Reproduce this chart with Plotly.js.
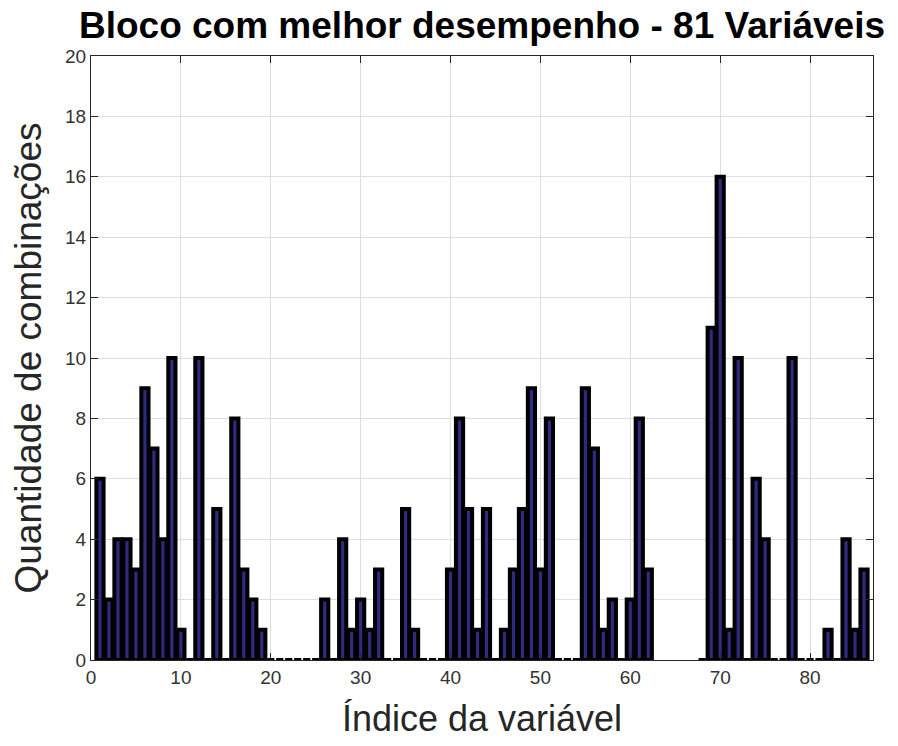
<!DOCTYPE html>
<html>
<head>
<meta charset="utf-8">
<script src="https://cdn.plot.ly/plotly-3.0.1.min.js"></script>
<style>
html,body{margin:0;padding:0;background:#fff;}
#chart{width:898px;height:746px;}
</style>
</head>
<body>
<div id="chart"></div>
<script>
const indices = [1,2,3,4,5,6,7,8,9,10,11,12,13,14,15,16,17,18,19,20,
  21,22,23,24,25,26,27,28,29,30,31,32,33,34,35,36,37,38,39,40,
  41,42,43,44,45,46,47,48,49,50,51,52,53,54,55,56,57,58,59,60,
  61,62,63,64,65,66,67,68,69,70,71,72,73,74,75,76,77,78,79,80,
  81,82,83,84,85,86];
const counts = [6,2,4,4,3,9,7,4,10,1,0,10,0,5,0,8,3,2,1,0,
  0,0,0,0,0,2,0,4,1,2,1,3,0,0,5,1,0,0,0,3,
  8,5,1,5,0,1,3,5,9,3,8,0,0,0,9,7,1,2,0,2,
  8,3,null,null,null,null,null,0,11,16,1,10,0,6,4,0,0,10,0,0,
  0,1,0,4,1,3];
const xTicks = [0,10,20,30,40,50,60,70,80];
const yTicks = [0,2,4,6,8,10,12,14,16,18,20];

const FONT = 'Liberation Sans, Arial, Helvetica, sans-serif';

const trace = {
  type: 'bar',
  x: indices,
  y: counts,
  width: 0.8,
  marker: {color: '#2e2b80', line: {color: '#000000', width: 4}},
  hoverinfo: 'x+y'
};

const axisCommon = {
  showline: true, mirror: 'ticks', linecolor: '#262626', linewidth: 1,
  ticks: 'inside', ticklen: 7, tickcolor: '#262626',
  showgrid: true, gridcolor: '#dedede', gridwidth: 1,
  zeroline: false,
  tickfont: {family: FONT, size: 19, color: '#333333'}
};

const layout = {
  width: 898, height: 746,
  margin: {l: 91, r: 25, t: 56, b: 86},
  paper_bgcolor: '#ffffff', plot_bgcolor: '#ffffff',
  showlegend: false,
  bargap: 0,
  title: {
    text: '<b>Bloco com melhor desempenho - 81 Variáveis</b>',
    font: {family: FONT, size: 37, color: '#000000'},
    xref: 'paper', x: 0.5, xanchor: 'center',
    yref: 'container', y: 0.967, yanchor: 'middle'
  },
  xaxis: Object.assign({}, axisCommon, {
    range: [0, 87], tickvals: xTicks, ticktext: xTicks.map(String),
    title: {text: 'Índice da variável', font: {family: FONT, size: 36, color: '#262626'}, standoff: 19}
  }),
  yaxis: Object.assign({}, axisCommon, {
    range: [0, 20], tickvals: yTicks, ticktext: yTicks.map(String),
    title: {text: 'Quantidade de combinações', font: {family: FONT, size: 37, color: '#262626'}, standoff: 12}
  })
};

Plotly.newPlot('chart', [trace], layout, {displayModeBar: false, staticPlot: true});
</script>
</body>
</html>
